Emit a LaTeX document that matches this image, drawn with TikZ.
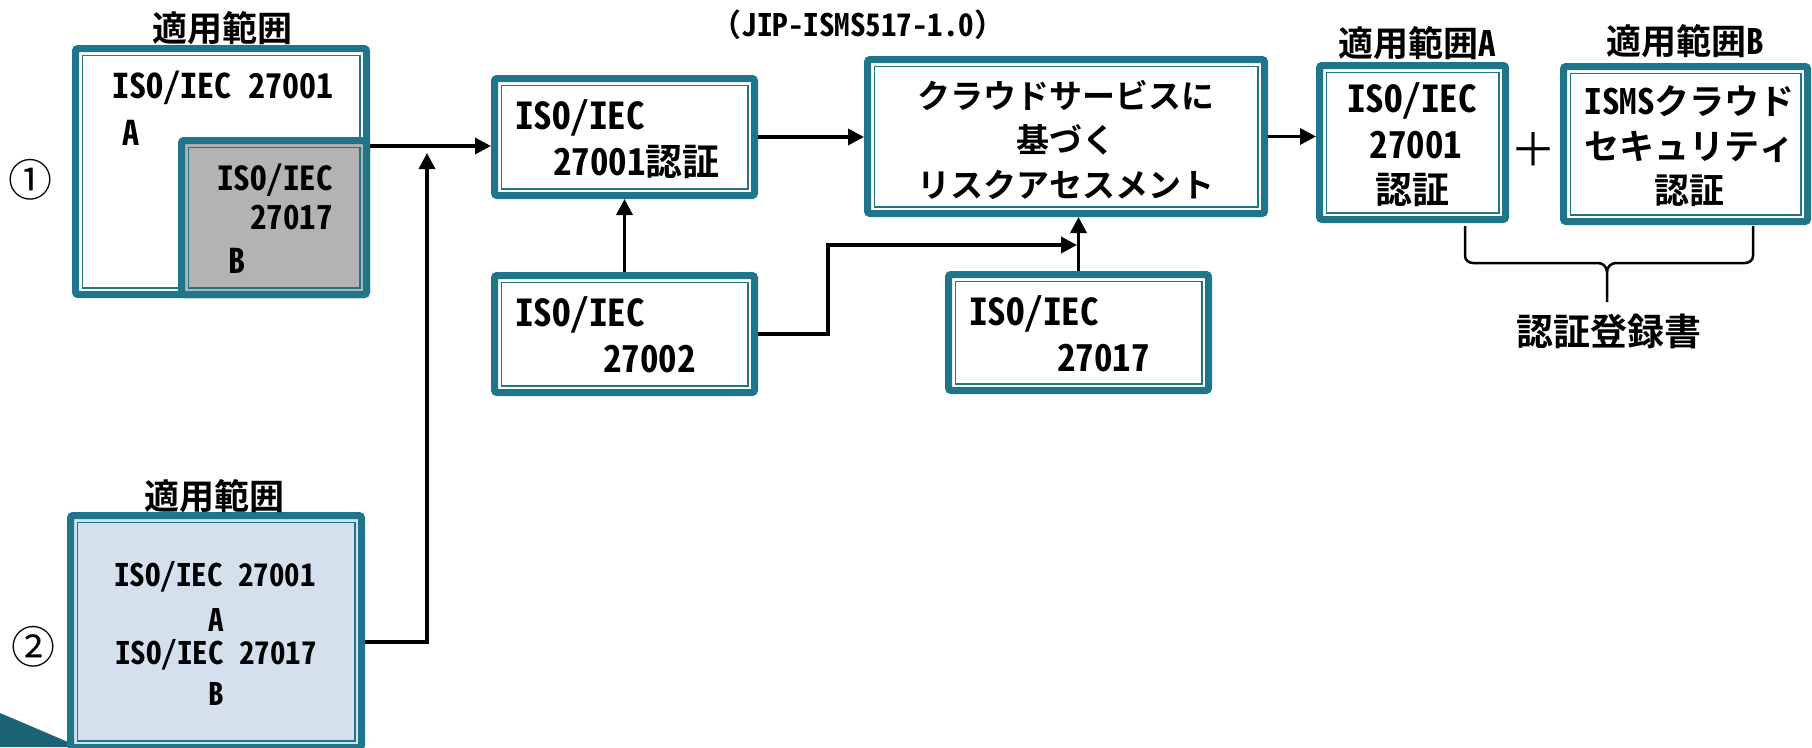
\documentclass[tikz,border=0pt]{standalone}
\usepackage{fontspec}
\setmainfont{Noto Sans Mono CJK JP}
\usetikzlibrary{arrows.meta}
\definecolor{tealb}{HTML}{1F758A}
\definecolor{grayfill}{HTML}{B3B3B3}
\definecolor{bluefill}{HTML}{D5E0EF}
\newcommand\fsz[1]{\fontsize{#1pt}{#1pt}\selectfont\bfseries}
\newcommand\fsr[1]{\fontsize{#1pt}{#1pt}\selectfont}
\tikzset{
  tbox/.style={draw=tealb, line width=7pt, rounded corners=2.5pt, inner sep=0pt, fill=white,
    path picture={\draw[tealb, line width=1.6pt, sharp corners]
      ([shift={(6.8pt,-6.8pt)}]path picture bounding box.north west) rectangle
      ([shift={(-6.8pt,6.8pt)}]path picture bounding box.south east);}},
  txt/.style={inner sep=0pt, outer sep=0pt},
  conn/.style={line width=3.5pt},
  arr/.style={line width=3.5pt, -{Triangle[length=16pt,width=16pt]}},
  bracel/.style={line width=2.5pt}
}
\begin{document}
\begin{tikzpicture}[x=1pt,y=-1pt]
\useasboundingbox (0,0) rectangle (1812,747);
\clip (0,0) rectangle (1812,747);
% corner decoration
\fill[tealb!85!black] (0,713) -- (68,742) -- (68,747) -- (0,747) -- cycle;

% boxes
\node[tbox, minimum width=291pt, minimum height=246pt] (A1) at (221,171.5) {};
\node[tbox, fill=grayfill, minimum width=185pt, minimum height=154pt] (B1) at (274,217.5) {};
\node[tbox, minimum width=260pt, minimum height=117pt] (c27001) at (624.5,137) {};
\node[tbox, minimum width=260pt, minimum height=117pt] (c27002) at (624.5,334) {};
\node[tbox, minimum width=397pt, minimum height=154pt] (cloud) at (1066,136.5) {};
\node[tbox, minimum width=260pt, minimum height=116pt] (c27017) at (1078.5,332.5) {};
\node[tbox, minimum width=186pt, minimum height=154pt] (certA) at (1412.5,142.5) {};
\node[tbox, minimum width=244pt, minimum height=155pt] (certB) at (1685.5,144) {};
\node[tbox, fill=bluefill, minimum width=291pt, minimum height=232pt] (box2) at (216,631.5) {};

% labels
\node[txt, font=\fsz{35}] (lab1) at (222,28) {適用範囲};
\node[txt, font=\fsz{35}] (lab2) at (214,496) {適用範囲};
\node[txt, font=\fsz{35}] (labA) at (1417,43) {適用範囲A};
\node[txt, font=\fsz{35}] (labB) at (1685,41) {適用範囲B};
\node[txt, font=\fsz{31}] (jip) at (858,25) {（JIP-ISMS517-1.0）};
\node[txt, font=\fsr{44}] (n1) at (31,180) {①};
\node[txt, font=\fsr{44}] (n2) at (33,647) {②};

% box A1 texts
\node[txt, anchor=west, font=\fsz{34}] (tA1a) at (112,87.5) {ISO/IEC 27001};
\node[txt, anchor=west, font=\fsz{34}] (tA1b) at (122,132.5) {A};
% box B1 texts
\node[txt, anchor=west, font=\fsz{33}] (tB1a) at (217,180) {ISO/IEC};
\node[txt, anchor=west, font=\fsz{33}] (tB1b) at (250,217.5) {27017};
\node[txt, anchor=west, font=\fsz{34}] (tB1c) at (228,261) {B};
% 27001 cert
\node[txt, anchor=west, font=\fsz{37}] (t1a) at (515,118) {ISO/IEC};
\node[txt, anchor=west, font=\fsz{37}] (t1b) at (553,162) {27001認証};
% 27002
\node[txt, anchor=west, font=\fsz{37}] (t2a) at (515,314.5) {ISO/IEC};
\node[txt, anchor=west, font=\fsz{37}] (t2b) at (603,359.5) {27002};
% 27017
\node[txt, anchor=west, font=\fsz{37}] (t3a) at (969,313.5) {ISO/IEC};
\node[txt, anchor=west, font=\fsz{37}] (t3b) at (1057,358.5) {27017};
% cloud
\node[txt, font=\fsz{33}] (tc1) at (1066,95) {クラウドサービスに};
\node[txt, font=\fsz{33}] (tc2) at (1066,140) {基づく};
\node[txt, font=\fsz{33}] (tc3) at (1066,185) {リスクアセスメント};
% certA
\node[txt, font=\fsz{37}] (tA1) at (1412,101) {ISO/IEC};
\node[txt, font=\fsz{37}] (tA2) at (1416,145.5) {27001};
\node[txt, font=\fsz{37}] (tA3) at (1412.5,190) {認証};
% plus
\node[txt, font=\fsr{46}] (plus) at (1533,150) {＋};
% certB
\node[txt, font=\fsz{35}] (tB1) at (1689.5,101) {ISMSクラウド};
\node[txt, font=\fsz{35}] (tB2) at (1689.5,147) {セキュリティ};
\node[txt, font=\fsz{35}] (tB3) at (1689,191) {認証};
% box2
\node[txt, font=\fsz{31}] (t21) at (215,576.5) {ISO/IEC 27001};
\node[txt, font=\fsz{31}] (t22) at (216,619.5) {A};
\node[txt, font=\fsz{31}] (t23) at (216,655) {ISO/IEC 27017};
\node[txt, font=\fsz{31}] (t24) at (216,693.5) {B};
% registration
\node[txt, font=\fsz{37}] (reg) at (1608.5,331) {認証登録書};

% connectors
\coordinate (y146) at (0,146);
\coordinate (y642) at (0,642);
\coordinate (j1) at (427,153);
\coordinate (k1) at (828,245);
\coordinate (m2) at (1077,245);
\draw[arr] (B1.east |- y146) -- (c27001.west |- y146);
\draw[arr] (box2.east |- y642) -| (j1);
\draw[arr] (c27002.north) -- (c27001.south);
\draw[arr] (c27001.east) -- (c27001.east -| cloud.west);
\draw[arr] (c27002.east) -| (k1) -- (m2);
\draw[arr] (c27017.north) -- (c27017.north |- cloud.south);
\draw[arr] (cloud.east) -- (cloud.east -| certA.west);

% brace
\draw[bracel] (1465,226) -- (1465,256) to[out=-90,in=180] (1473,263) -- (1598,263)
  to[out=0,in=90] (1607,272) -- (1607,302);
\draw[bracel] (1753,226) -- (1753,256) to[out=-90,in=0] (1745,263) -- (1616,263)
  to[out=180,in=90] (1607,272);
\end{tikzpicture}
\end{document}
